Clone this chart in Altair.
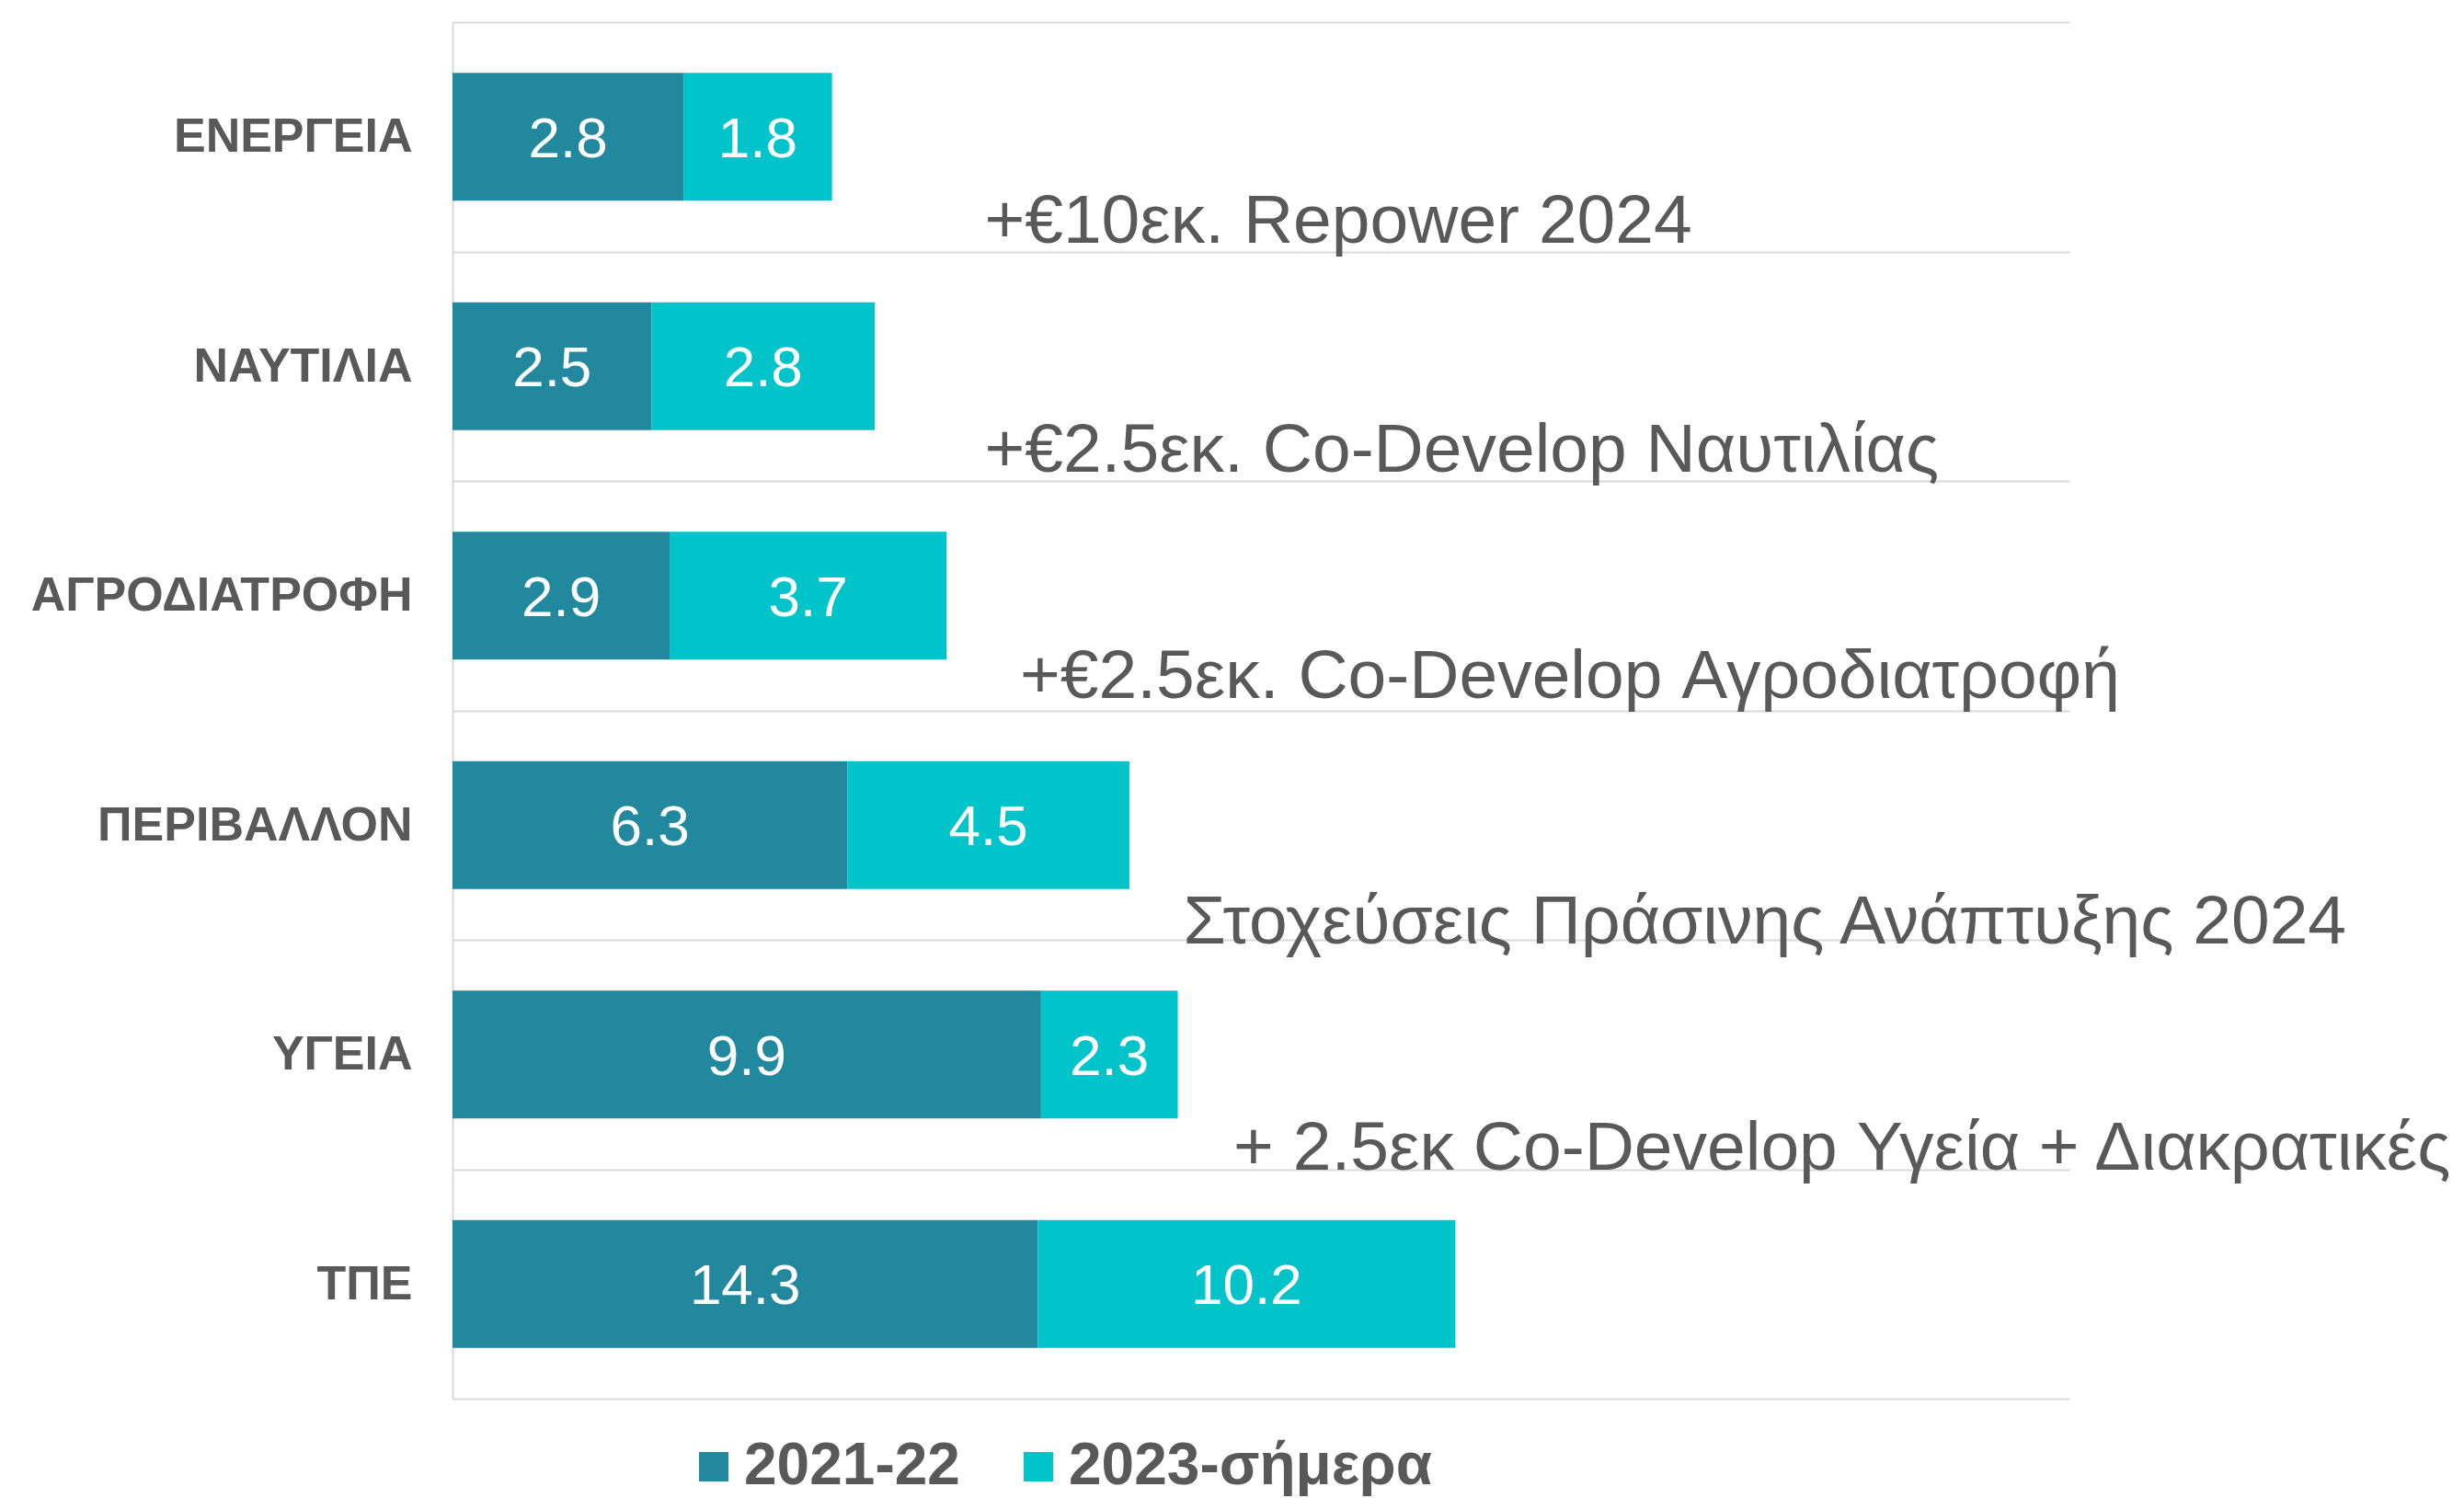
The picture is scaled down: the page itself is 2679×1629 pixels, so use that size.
import altair as alt
import pandas as pd

# ---- data ----
categories = ["ΕΝΕΡΓΕΙΑ", "ΝΑΥΤΙΛΙΑ", "ΑΓΡΟΔΙΑΤΡΟΦΗ", "ΠΕΡΙΒΑΛΛΟΝ", "ΥΓΕΙΑ", "ΤΠΕ"]
series = ["2021-22", "2023-σήμερα"]
values_2021_22 = [2.8, 2.5, 2.9, 6.3, 9.9, 14.3]
values_2023 = [1.8, 2.8, 3.7, 4.5, 2.3, 10.2]
# the original is a 100% stacked bar with an invisible third segment
hidden_rest = [15, 15, 15, 15, 15, 15]

annotations = [
    "+€10εκ. Repower 2024",
    "+€2.5εκ. Co-Develop Ναυτιλίας",
    "+€2.5εκ. Co-Develop Αγροδιατροφή",
    "Στοχεύσεις Πράσινης Ανάπτυξης 2024",
    "+ 2.5εκ Co-Develop Υγεία + Διακρατικές",
]
annotation_rows = ["ΕΝΕΡΓΕΙΑ", "ΝΑΥΤΙΛΙΑ", "ΑΓΡΟΔΙΑΤΡΟΦΗ", "ΠΕΡΙΒΑΛΛΟΝ", "ΥΓΕΙΑ"]

# ---- layout / style ----
ann_x = [0.329, 0.329, 0.351, 0.452, 0.483]
ann_dy = [115, 115, 111, 129, 125]
DARK = "#21889E"
LIGHT = "#01C4CB"
GRAY = "#595959"
GRID = "#d9d9d9"
FONT = "Liberation Sans"

rows = []
for i, c in enumerate(categories):
    rows.append({"cat": c, "series": series[0], "value": values_2021_22[i], "order": 0,
                 "label": f"{values_2021_22[i]:.1f}"})
    rows.append({"cat": c, "series": series[1], "value": values_2023[i], "order": 1,
                 "label": f"{values_2023[i]:.1f}"})
    rows.append({"cat": c, "series": "rest", "value": hidden_rest[i], "order": 2, "label": ""})
df = pd.DataFrame(rows)

base = (
    alt.Chart(df)
    .transform_stack(stack="value", as_=["x0", "x1"], groupby=["cat"],
                     sort=[alt.SortField("order", order="ascending")], offset="normalize")
    .transform_calculate(mid="(datum.x0 + datum.x1) / 2")
)

y_enc = alt.Y(
    "cat:N", sort=categories, title=None,
    scale=alt.Scale(paddingInner=0, paddingOuter=0),
    axis=alt.Axis(grid=True, tickBand="extent", ticks=False, domain=True,
                  domainColor=GRID, domainWidth=2, gridColor=GRID, gridWidth=2,
                  labelFont=FONT, labelFontSize=52, labelFontWeight="bold",
                  labelColor=GRAY, labelPadding=44, labelLimit=1000),
)

bars = base.mark_bar(height={"band": 0.557}).encode(
    y=y_enc,
    x=alt.X("x0:Q", scale=alt.Scale(domain=[0, 1], nice=False, zero=True), axis=None),
    x2="x1:Q",
    color=alt.Color(
        "series:N",
        scale=alt.Scale(domain=series + ["rest"], range=[DARK, LIGHT, "rgba(255,255,255,0)"]),
        legend=alt.Legend(values=series, orient="none", legendX=252, legendY=1539,
                          direction="horizontal", title=None, symbolType="square",
                          symbolSize=1024, symbolStrokeWidth=0, symbolOpacity=1,
                          labelFontSize=64, labelFontWeight="bold", labelColor=GRAY,
                          labelFont=FONT, labelOffset=1, columnPadding=53,
                          labelLimit=1000, padding=0),
    ),
)

labels = base.transform_filter("datum.series != 'rest'").mark_text(
    color="white", fontSize=62, font=FONT, dy=3
).encode(
    y=alt.Y("cat:N", sort=categories),
    x=alt.X("mid:Q"),
    text="label:N",
)

layers = [bars, labels]
for i, t in enumerate(annotations):
    adf = pd.DataFrame({"cat": [annotation_rows[i]], "x": [ann_x[i]], "t": [t]})
    layers.append(
        alt.Chart(adf).mark_text(align="left", baseline="alphabetic", dy=ann_dy[i],
                                 fontSize=75, color=GRAY, font=FONT).encode(
            y=alt.Y("cat:N", sort=categories),
            x=alt.X("x:Q"),
            text="t:N",
        )
    )

chart = (
    alt.layer(*layers)
    .properties(width=1758, height=1497,
                padding={"left": 492, "top": 24, "right": 429, "bottom": 108},
                autosize=alt.AutoSizeParams(type="none"))
    .configure_view(stroke=None)
)

chart.save("out.html", embed_options={"renderer": "svg", "actions": False})
